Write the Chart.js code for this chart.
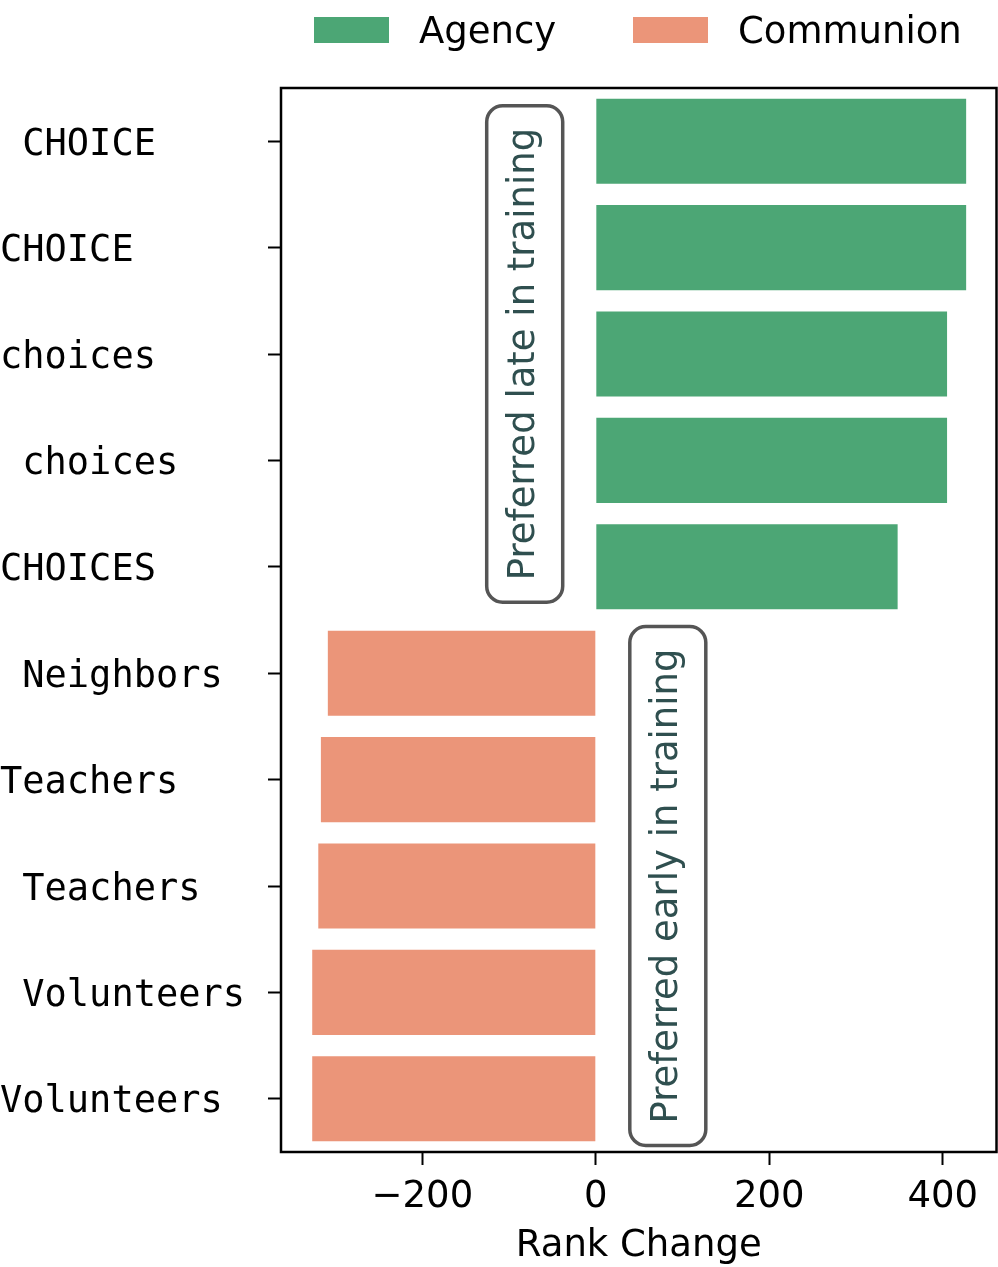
<!DOCTYPE html>
<html><head><meta charset="utf-8">
<script src="https://cdn.jsdelivr.net/npm/chart.js@4/dist/chart.umd.min.js"></script>
<style>html,body{margin:0;padding:0;background:#fff}#wrap{width:998px;height:1267px}</style>
</head><body><div id="wrap"><canvas id="c" width="998" height="1267"></canvas></div>
<script>
const categories = [' CHOICE', 'CHOICE', 'choices', ' choices', 'CHOICES', ' Neighbors', 'Teachers', ' Teachers', ' Volunteers', 'Volunteers'];
const agencyValues = [427, 427, 405, 405, 348, null, null, null, null, null];
const communionValues = [null, null, null, null, null, -309, -317, -320, -327, -327];
const seriesNames = ['Agency', 'Communion'];
const xTickValues = [-200, 0, 200, 400];
const annotationTexts = ['Preferred late in training', 'Preferred early in training'];

const GREEN = '#4ca675', SALMON = '#eb9579';
const FONT = 'DejaVu Sans';
const MONO = 'DejaVu Sans Mono';

const annotationPlugin = {
  id: 'boxNotes',
  afterDatasetsDraw(chart, args, opts) {
    const ctx = chart.ctx, xs = chart.scales.x, ys = chart.scales.y;
    ctx.save();
    ctx.font = '37px "' + FONT + '"';
    opts.items.forEach((it, i) => {
      const text = annotationTexts[i];
      const cx = xs.getPixelForValue(it.x);
      const cy = ys.getPixelForValue(it.y) + it.dy;
      const tw = ctx.measureText(text).width;
      const h = tw + 44, w = 76, r = 16;
      ctx.beginPath();
      ctx.roundRect(cx - w / 2, cy - h / 2, w, h, r);
      ctx.fillStyle = '#ffffff';
      ctx.fill();
      ctx.lineWidth = 3.5;
      ctx.strokeStyle = '#555555';
      ctx.stroke();
      ctx.save();
      ctx.translate(cx, cy);
      ctx.rotate(-Math.PI / 2);
      ctx.fillStyle = '#2f4f4f';
      ctx.textAlign = 'center';
      ctx.textBaseline = 'middle';
      ctx.fillText(text, 0, 0);
      ctx.restore();
    });
    ctx.restore();
  },
  afterDraw(chart) {
    const ctx = chart.ctx, a = chart.chartArea;
    ctx.save();
    ctx.strokeStyle = '#000';
    ctx.lineWidth = 2.5;
    ctx.strokeRect(a.left, a.top, a.right - a.left, a.bottom - a.top);
    // legend
    ctx.font = '37px "' + FONT + '"';
    ctx.textBaseline = 'middle';
    ctx.textAlign = 'left';
    const starts = [314, 633];
    chart.data.datasets.forEach((ds, i) => {
      const x = starts[i];
      ctx.fillStyle = ds.backgroundColor;
      ctx.fillRect(x, 17, 75, 26);
      ctx.fillStyle = '#000';
      ctx.fillText(ds.label, x + 105, 33);
    });
    ctx.restore();
  }
};

new Chart(document.getElementById('c'), {
  type: 'bar',
  data: {
    labels: categories,
    datasets: [
      { label: seriesNames[0], data: agencyValues, backgroundColor: GREEN },
      { label: seriesNames[1], data: communionValues, backgroundColor: SALMON }
    ]
  },
  options: {
    indexAxis: 'y',
    responsive: false,
    animation: false,
    devicePixelRatio: 1,
    barPercentage: 0.8,
    categoryPercentage: 1.0,
    layout: { padding: { top: 88, right: 1.5, left: 0, bottom: 0 } },
    plugins: {
      legend: { display: false },
      tooltip: { enabled: false },
      boxNotes: { items: [ { x: -82, y: 2, dy: 0 }, { x: 83, y: 7, dy: 0 } ] }
    },
    scales: {
      x: {
        type: 'linear',
        stacked: true,
        min: -363,
        max: 462,
        afterFit: s => { s.height = 115; },
        afterBuildTicks: s => { s.ticks = xTickValues.map(v => ({ value: v })); },
        grid: { drawOnChartArea: false, drawTicks: true, tickLength: 13, tickColor: '#000', tickWidth: 2 },
        border: { display: true, color: '#000', width: 2 },
        ticks: {
          color: '#000',
          font: { family: FONT, size: 37 },
          padding: 10,
          maxRotation: 0,
          callback: v => (v < 0 ? '\u2212' + Math.abs(v) : String(v))
        },
        title: { display: true, text: 'Rank Change', color: '#000', font: { family: FONT, size: 37, lineHeight: 1.1 }, padding: { top: 0, bottom: 0 } }
      },
      y: {
        type: 'category',
        stacked: true,
        afterFit: s => { s.width = 281; },
        grid: { offset: false, drawOnChartArea: false, drawTicks: true, tickLength: 13, tickColor: '#000', tickWidth: 2 },
        border: { display: true, color: '#000', width: 2 },
        ticks: {
          color: '#000',
          crossAlign: 'far',
          labelOffset: 4,
          font: { family: MONO, size: 37 },
          autoSkip: false
        }
      }
    }
  },
  plugins: [annotationPlugin]
});
</script></body></html>
